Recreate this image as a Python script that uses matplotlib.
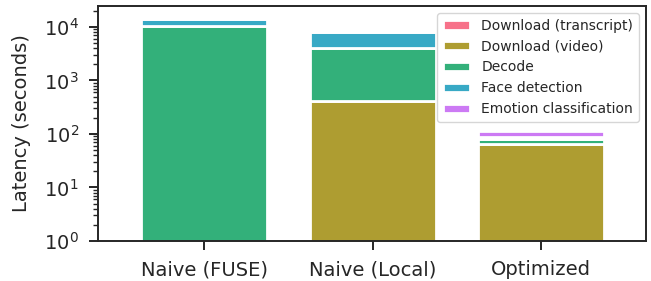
import matplotlib
matplotlib.use('Agg')
import matplotlib.pyplot as plt
import numpy as np
import seaborn as sns

systems = ['Naive (FUSE)', 'Naive (Local)', 'Optimized']
stages = ['Download (transcript)', 'Download (video)', 'Decode',
          'Face detection', 'Emotion classification']

# latency of each stage, seconds
transcript = [0.5, 0.5, 0.5]
video = [0, 417, 64]
decode = [10200, 3620, 15]
face = [4000, 4100, 8]
emotion = [24, 24, 24]

sns.set_theme(style='ticks')
plt.rcParams['font.family'] = ['DejaVu Sans']
colors = sns.color_palette('husl', 5)

fig = plt.figure(figsize=(6.51, 2.81), dpi=100)
ax = fig.add_axes([0.1505, 0.1423, 0.8415, 0.8363])
ax.set_yscale('log')

x = np.arange(len(systems))
bottom = np.zeros(len(systems))
for name, vals, c in zip(stages, [transcript, video, decode, face, emotion], colors):
    vals = np.array(vals, dtype=float)
    ax.bar(x, vals, 0.75, bottom=bottom, color=c, edgecolor='white',
           linewidth=2, label=name)
    bottom = bottom + vals

ax.set_ylim(1, 10**4.39)
ax.set_xlim(-0.63, 2.62)
ax.set_xticks(x)
ax.set_xticklabels(systems, fontsize=14)
ax.tick_params(axis='both', which='major', length=6.3, width=1.4, pad=7.5)
ax.tick_params(axis='y', which='minor', length=3.5, width=1.0)
ax.tick_params(axis='y', labelsize=14)
for s in ax.spines.values():
    s.set_linewidth(1.4)
    s.set_color('.15')
ax.set_ylabel('Latency (seconds)', fontsize=14, labelpad=9)
ax.legend(loc='upper right', fontsize=10)

fig.savefig('out.png', dpi=100)
